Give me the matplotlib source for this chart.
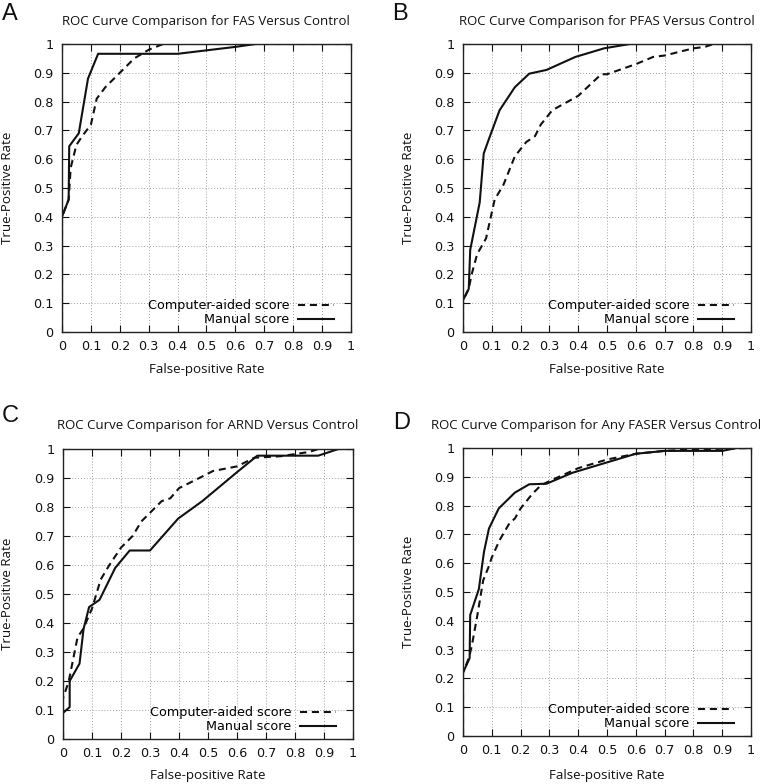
import matplotlib
matplotlib.use("Agg")
import matplotlib.pyplot as plt

# values
fas_manual_x = [0, 0, 0.023, 0.025, 0.058, 0.09, 0.125, 0.40, 0.60, 0.67, 1.0]
fas_manual_y = [0, 0.40, 0.46, 0.645, 0.69, 0.88, 0.966, 0.966, 0.99, 1.0, 1.0]
fas_computer_x = [0, 0, 0.023, 0.03, 0.05, 0.07, 0.10, 0.12, 0.15, 0.20, 0.25, 0.30, 0.35, 1.0]
fas_computer_y = [0, 0.40, 0.46, 0.57, 0.65, 0.68, 0.72, 0.81, 0.85, 0.90, 0.95, 0.98, 1.0, 1.0]

pfas_manual_x = [0, 0, 0.02, 0.025, 0.058, 0.072, 0.09, 0.127, 0.18, 0.23, 0.29, 0.39, 0.49, 0.58, 1.0]
pfas_manual_y = [0, 0.11, 0.15, 0.285, 0.45, 0.62, 0.67, 0.77, 0.85, 0.897, 0.91, 0.955, 0.985, 1.0, 1.0]
pfas_computer_x = [0, 0, 0.02, 0.03, 0.049, 0.08, 0.11, 0.14, 0.18, 0.22, 0.25, 0.27, 0.31, 0.40,
                   0.48, 0.50, 0.60, 0.66, 0.70, 0.80, 0.84, 0.87, 1.0]
pfas_computer_y = [0, 0.11, 0.15, 0.20, 0.27, 0.325, 0.46, 0.51, 0.61, 0.66, 0.68, 0.72, 0.77, 0.82,
                   0.895, 0.895, 0.93, 0.955, 0.96, 0.985, 0.99, 1.0, 1.0]

arnd_manual_x = [0, 0, 0.023, 0.023, 0.057, 0.071, 0.09, 0.126, 0.18, 0.23, 0.30, 0.397, 0.48,
                 0.60, 0.67, 0.88, 0.95, 1.0]
arnd_manual_y = [0, 0.09, 0.11, 0.20, 0.26, 0.38, 0.455, 0.48, 0.59, 0.65, 0.65, 0.76, 0.82,
                 0.92, 0.977, 0.977, 1.0, 1.0]
arnd_computer_x = [0, 0, 0.02, 0.04, 0.05, 0.07, 0.10, 0.13, 0.16, 0.20, 0.24, 0.27, 0.30, 0.34,
                   0.37, 0.40, 0.47, 0.517, 0.60, 0.66, 0.75, 0.85, 0.88, 1.0]
arnd_computer_y = [0, 0.14, 0.20, 0.30, 0.35, 0.38, 0.45, 0.55, 0.60, 0.66, 0.70, 0.75, 0.78, 0.82,
                   0.83, 0.865, 0.90, 0.924, 0.94, 0.97, 0.975, 0.99, 1.0, 1.0]

faser_manual_x = [0, 0, 0.023, 0.025, 0.055, 0.073, 0.09, 0.124, 0.18, 0.23, 0.29, 0.38, 0.50,
                  0.60, 0.70, 0.90, 0.95, 1.0]
faser_manual_y = [0, 0.22, 0.27, 0.42, 0.51, 0.64, 0.72, 0.79, 0.845, 0.874, 0.876, 0.914, 0.95,
                  0.98, 0.99, 0.99, 1.0, 1.0]
faser_computer_x = [0, 0, 0.02, 0.03, 0.05, 0.07, 0.09, 0.10, 0.127, 0.162, 0.18, 0.20, 0.24,
                    0.27, 0.30, 0.40, 0.50, 0.60, 0.70, 0.80, 1.0]
faser_computer_y = [0, 0.22, 0.27, 0.31, 0.42, 0.54, 0.59, 0.62, 0.68, 0.74, 0.755, 0.79, 0.84,
                    0.87, 0.885, 0.93, 0.96, 0.98, 0.99, 0.995, 1.0]

titles = ["ROC Curve Comparison for FAS Versus Control",
          "ROC Curve Comparison for PFAS Versus Control",
          "ROC Curve Comparison for ARND Versus Control",
          "ROC Curve Comparison for Any FASER Versus Control"]
letters = ["A", "B", "C", "D"]
tick_vals = [0, 0.1, 0.2, 0.3, 0.4, 0.5, 0.6, 0.7, 0.8, 0.9, 1]
tick_labels = ["0", "0.1", "0.2", "0.3", "0.4", "0.5", "0.6", "0.7", "0.8", "0.9", "1"]

curves = [
    (fas_computer_x, fas_computer_y, fas_manual_x, fas_manual_y),
    (pfas_computer_x, pfas_computer_y, pfas_manual_x, pfas_manual_y),
    (arnd_computer_x, arnd_computer_y, arnd_manual_x, arnd_manual_y),
    (faser_computer_x, faser_computer_y, faser_manual_x, faser_manual_y),
]

W, H = 762, 784
fig = plt.figure(figsize=(W / 100, H / 100), dpi=100)

# axes boxes in pixels: left, top, right, bottom
boxes = [(62, 44, 351, 332), (463, 44, 751, 332), (63, 449, 353, 739), (463, 448, 751, 736)]
title_pos = [(206, 21), (607, 21), (208, 425), (596, 425)]
letter_pos = [(2, 14), (392, 14), (2, 416), (393, 423)]
ylab_x = [8, 408, 8, 408]
xlab_y = [370, 370, 775, 775]

label_font = "Open Sans"

for i in range(4):
    l, t, r, b = boxes[i]
    aw, ah = r - l, b - t
    ax = fig.add_axes([l / W, 1 - b / H, aw / W, ah / H])
    cx, cy, mx, my = curves[i]
    ax.plot(cx, cy, color="#111111", lw=1.5, dashes=(3.4, 2.3), label="Computer-aided score")
    ax.plot(mx, my, color="#111111", lw=1.5, label="Manual score")
    ax.set_xlim(0, 1)
    ax.set_ylim(0, 1)
    ax.set_xticks(tick_vals)
    ax.set_xticklabels(tick_labels)
    ax.set_yticks(tick_vals)
    ax.set_yticklabels(tick_labels)
    ax.tick_params(direction="in", length=5, width=0.8, top=True, right=True,
                   labelsize=9.2, pad=6, colors="#111111")
    ax.grid(True, color="#a0a0a0", linestyle=(0, (1, 2)), lw=0.7)
    for s in ax.spines.values():
        s.set_linewidth(1.0)
        s.set_color("#222222")
    ax.legend(loc="lower right", markerfirst=False, frameon=False,
              handlelength=2.8, handletextpad=0.7, labelspacing=0.08,
              bbox_to_anchor=(1 - 17 / aw, 6 / ah), borderaxespad=0, borderpad=0,
              prop={"family": "DejaVu Sans", "size": 9.2})

    fig.text(title_pos[i][0] / W, 1 - title_pos[i][1] / H, titles[i], ha="center", va="center",
             fontsize=9.5, family=label_font, color="#111111")
    fig.text(letter_pos[i][0] / W, 1 - letter_pos[i][1] / H, letters[i], ha="left", va="center",
             fontsize=17, family="Liberation Sans", color="#111111")
    fig.text(ylab_x[i] / W, 1 - ((t + b) / 2) / H, "True-Positive Rate", rotation=90,
             ha="center", va="center", fontsize=9.6, family=label_font, color="#111111")
    fig.text(((l + r) / 2) / W, 1 - xlab_y[i] / H, "False-positive Rate",
             ha="center", va="center", fontsize=9.6, family=label_font, color="#111111")

fig.savefig("out.png", dpi=100)
